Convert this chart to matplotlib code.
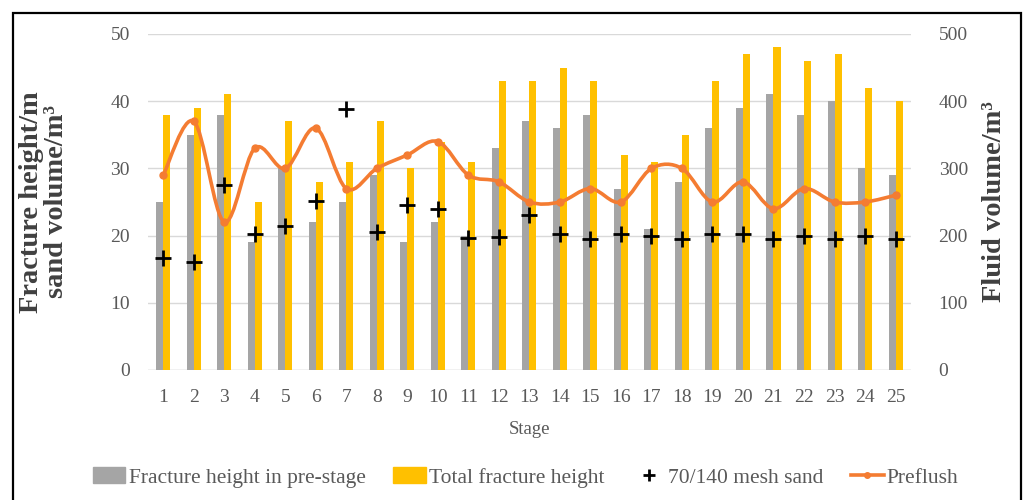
import numpy as np
import matplotlib
matplotlib.use("Agg")
import matplotlib.pyplot as plt
from matplotlib.path import Path
from matplotlib.patches import PathPatch, Rectangle, Patch
from matplotlib.lines import Line2D

plt.rcParams['font.family'] = ['Liberation Serif', 'DejaVu Serif']

# data
stages = list(range(1, 26))
pre_height = [25, 35, 38, 19, 30, 22, 25, 29, 19, 22, 20, 33, 37, 36, 38,
              27, 21, 28, 36, 39, 41, 38, 40, 30, 29]
total_height = [38, 39, 41, 25, 37, 28, 31, 37, 30, 34, 31, 43, 43, 45, 43,
                32, 31, 35, 43, 47, 48, 46, 47, 42, 40]
sand = [16.7, 16.0, 27.5, 20.2, 21.5, 25.2, 38.9, 20.6, 24.6, 23.9, 19.6, 19.8,
        23.1, 20.2, 19.5, 20.2, 19.9, 19.5, 20.2, 20.2, 19.5, 19.9, 19.5, 19.9, 19.5]
preflush = [290, 370, 220, 330, 300, 360, 270, 300, 320, 340, 290, 280, 250,
            250, 270, 250, 300, 300, 250, 280, 240, 270, 250, 250, 260]

GRAY = '#A5A5A5'
YELLOW = '#FFC000'
ORANGE = '#F47C32'
TXT = '#595959'
LBL = '#404040'


def smooth_path(xs, ys):
    # Excel-like smoothed line: cubic bezier through the points
    x = np.asarray(xs, float)
    y = np.asarray(ys, float)
    n = len(x)
    verts = [(x[0], y[0])]
    codes = [Path.MOVETO]
    for i in range(n - 1):
        i0 = max(i - 1, 0)
        i3 = min(i + 2, n - 1)
        c1 = (x[i] + (x[i + 1] - x[i0]) / 6, y[i] + (y[i + 1] - y[i0]) / 6)
        c2 = (x[i + 1] - (x[i3] - x[i]) / 6, y[i + 1] - (y[i3] - y[i]) / 6)
        verts += [c1, c2, (x[i + 1], y[i + 1])]
        codes += [Path.CURVE4] * 3
    return Path(verts, codes)


fig = plt.figure(figsize=(10.35, 5.0), dpi=100)
ax = fig.add_axes([0.143, 0.26, 0.737, 0.672])
ax2 = ax.twinx()

x = np.array(stages)
w = 0.23
ax.bar(x - w / 2, pre_height, w, color=GRAY, zorder=2)
ax.bar(x + w / 2, total_height, w, color=YELLOW, zorder=2)
ax.plot(x, sand, linestyle='none', marker='+', color='black', markersize=12,
        markeredgewidth=2, zorder=4)

ax2.add_patch(PathPatch(smooth_path(x, preflush), facecolor='none',
                        edgecolor=ORANGE, linewidth=2.6, zorder=3))
ax2.plot(x, preflush, linestyle='none', marker='o', color=ORANGE, markersize=5)

ax.set_xlim(0.5, 25.5)
ax.set_ylim(0, 50)
ax2.set_ylim(0, 500)
ax.set_yticks(range(0, 51, 10))
ax2.set_yticks(range(0, 501, 100))
ax.set_xticks(stages)

ax.grid(axis='y', color='#D9D9D9', linewidth=1, zorder=0)
ax.set_axisbelow(True)
for a in (ax, ax2):
    for s in a.spines.values():
        s.set_visible(False)
ax.axhline(0, color='#D9D9D9', linewidth=1, zorder=1)

ax.tick_params(axis='y', length=0, pad=13, labelsize=14, labelcolor=TXT)
ax.tick_params(axis='x', length=0, pad=14, labelsize=14, labelcolor=TXT)
ax2.tick_params(axis='y', length=0, pad=20, labelsize=14, labelcolor=TXT)
for t in ax2.get_yticklabels():
    t.set_horizontalalignment('left')

ax.set_xlabel('Stage', fontsize=13.5, color=TXT)
ax.xaxis.set_label_coords(0.5, -0.152)
ax.set_ylabel('Fracture height/m\nsand volume/m³', fontsize=20.5, fontweight='bold',
              color=LBL, linespacing=1.0)
ax.yaxis.set_label_coords(-0.104, 0.5)
ax2.set_ylabel('Fluid volume/m³', fontsize=20.5, fontweight='bold', color=LBL,
               rotation=90)
ax2.yaxis.set_label_coords(1.093, 0.5)

handles = [Patch(color=GRAY), Patch(color=YELLOW),
           Line2D([], [], linestyle='none', marker='+', color='black',
                  markersize=9, markeredgewidth=2),
           Line2D([], [], color=ORANGE, linewidth=2.6, marker='o', markersize=4)]
labels = ['Fracture height in pre-stage', 'Total fracture height',
          '70/140 mesh sand', 'Preflush']
leg = fig.legend(handles, labels, loc='center', bbox_to_anchor=(0.508, 0.045),
                 ncol=4, frameon=False, fontsize=15.5, handlelength=1.5,
                 handletextpad=0.15, columnspacing=1.3)
for t in leg.get_texts():
    t.set_color(TXT)

fig.patches.append(Rectangle((13 / 1035, -0.02), (1021 - 13) / 1035, 0.994,
                             transform=fig.transFigure, fill=False,
                             edgecolor='black', linewidth=1.6))

fig.savefig('out.png', dpi=100)
